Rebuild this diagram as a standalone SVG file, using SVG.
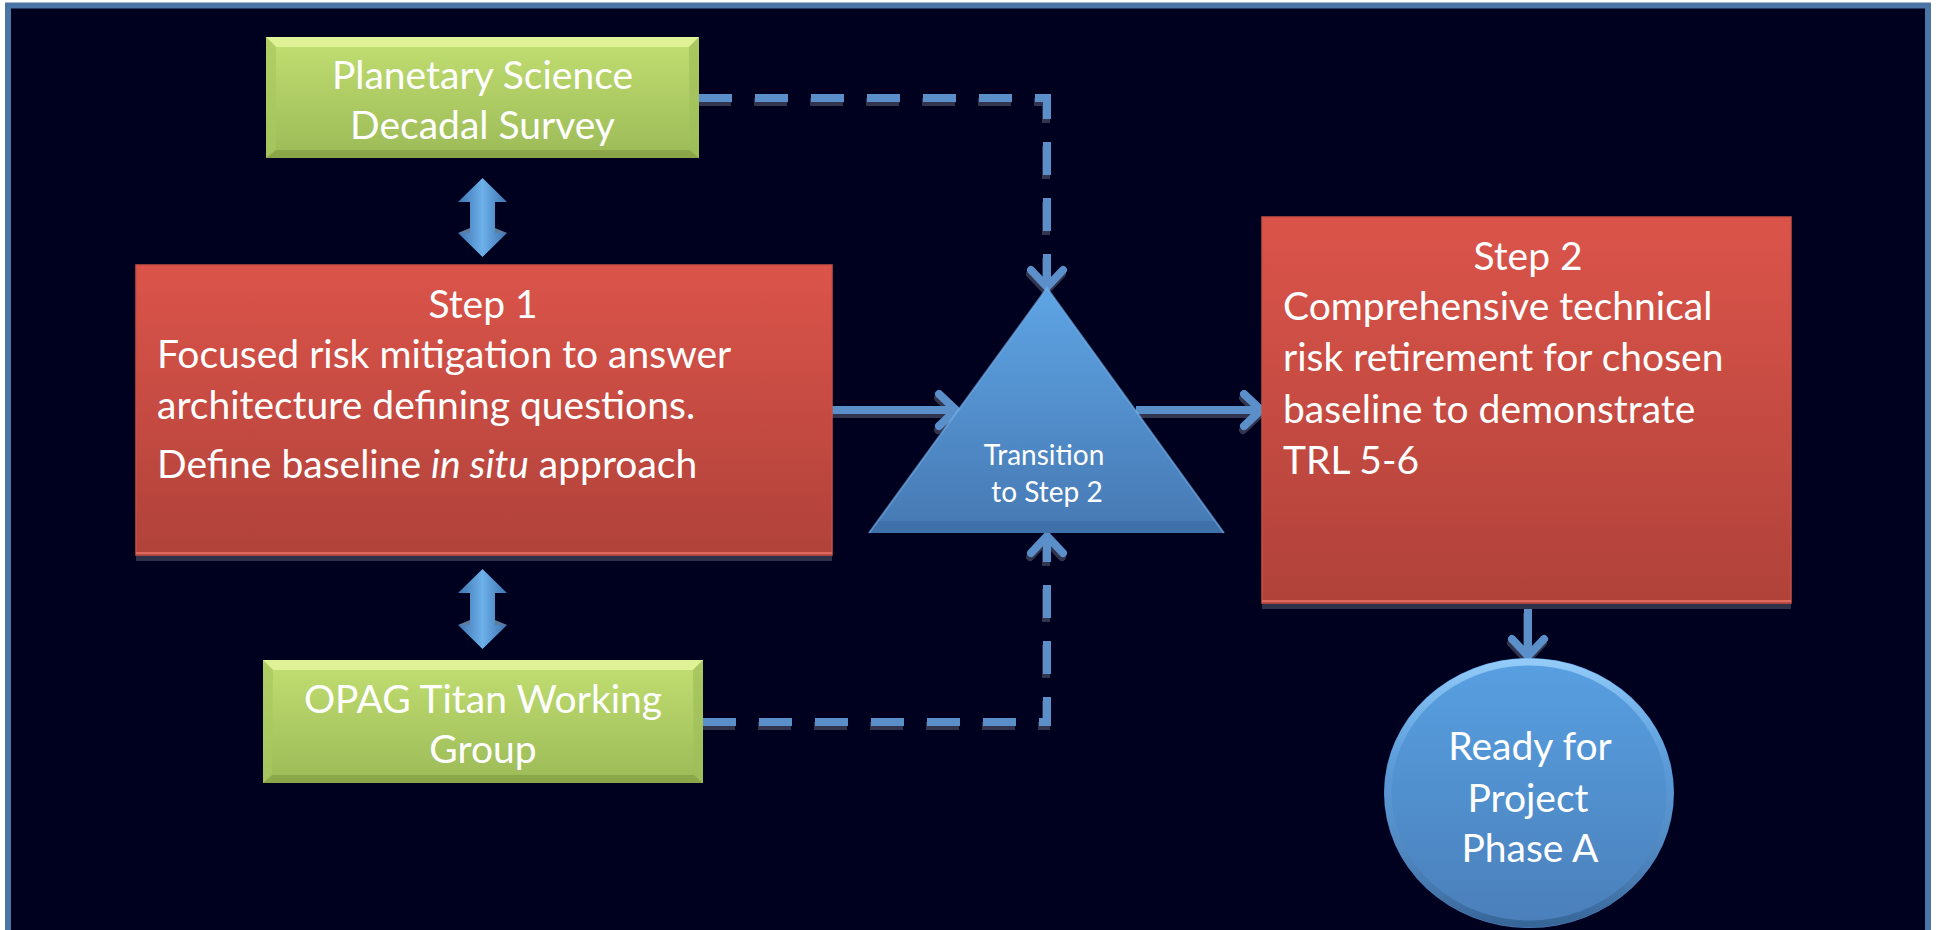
<svg xmlns="http://www.w3.org/2000/svg" width="1937" height="930" viewBox="0 0 1937 930">
<style>
.t{font-family:Lato,"Open Sans","Liberation Sans",sans-serif;fill:#ffffff;font-size:39px}
.c{text-anchor:middle}
.s{font-size:28px}
.conn{fill:none;stroke:#5b8fca;stroke-width:8}
.sh{fill:none;stroke:#33354f;stroke-width:8}
.dash{stroke-dasharray:33 23}
</style>
<defs>
<linearGradient id="gGreen" x1="0" y1="0" x2="0" y2="1"><stop offset="0" stop-color="#c2df72"/><stop offset="1" stop-color="#9cba57"/></linearGradient>
<linearGradient id="gRed" x1="0" y1="0" x2="0" y2="1"><stop offset="0" stop-color="#db544a"/><stop offset="1" stop-color="#b0423a"/></linearGradient>
<linearGradient id="gTri" x1="0" y1="0" x2="0" y2="1"><stop offset="0" stop-color="#5ea4e4"/><stop offset="1" stop-color="#4679b3"/></linearGradient>
<linearGradient id="gCirc" x1="0" y1="0" x2="0" y2="1"><stop offset="0" stop-color="#58a0e2"/><stop offset="1" stop-color="#4a7fba"/></linearGradient>
<linearGradient id="gRim" x1="0" y1="0" x2="0" y2="1"><stop offset="0" stop-color="#9ad0fa" stop-opacity="0.9"/><stop offset="0.4" stop-color="#7ab8ee" stop-opacity="0.2"/><stop offset="1" stop-color="#2f5a8a" stop-opacity="0.7"/></linearGradient>
<linearGradient id="gArr" x1="0" y1="0" x2="1" y2="0"><stop offset="0" stop-color="#3e73ae"/><stop offset="0.5" stop-color="#6cb0ea"/><stop offset="1" stop-color="#3e73ae"/></linearGradient>
<marker id="chev" markerUnits="userSpaceOnUse" markerWidth="60" markerHeight="60" viewBox="-30 -30 60 60" refX="0" refY="0" orient="auto" overflow="visible">
<path d="M-18,-16 L-1,0 L-18,16" fill="none" stroke="#5b8fca" stroke-width="8" stroke-linecap="round" stroke-linejoin="round"/>
</marker>
<marker id="chevSh" markerUnits="userSpaceOnUse" markerWidth="60" markerHeight="60" viewBox="-30 -30 60 60" refX="0" refY="0" orient="auto" overflow="visible">
<path d="M-18,-16 L-1,0 L-18,16" fill="none" stroke="#33354f" stroke-width="8" stroke-linecap="round" stroke-linejoin="round"/>
</marker>
</defs>

<rect x="0" y="0" width="1937" height="930" fill="#ffffff"/>
<rect id="frame" x="8" y="5.5" width="1920" height="1000" fill="#00001f" stroke="#4a75a4" stroke-width="6"/>

<g id="connectors">
  <!-- shadows -->
  <g transform="translate(-1,4)">
    <path class="sh dash" d="M699,98 H1047 V288" marker-end="url(#chevSh)"/>
    <path class="sh dash" d="M703,722 H1047 V535" marker-end="url(#chevSh)"/>
    <path class="sh" d="M832,410 H957" marker-end="url(#chevSh)"/>
    <path class="sh" d="M1136,410 H1262" marker-end="url(#chevSh)"/>
    <path class="sh" d="M1528,609 V657" marker-end="url(#chevSh)"/>
  </g>
  <path class="conn dash" d="M699,98 H1047 V288" marker-end="url(#chev)"/>
  <path class="conn dash" d="M703,722 H1047 V535" marker-end="url(#chev)"/>
  <path class="conn" d="M832,410 H957" marker-end="url(#chev)"/>
  <path class="conn" d="M1136,410 H1262" marker-end="url(#chev)"/>
  <path class="conn" d="M1528,603 V657" marker-end="url(#chev)"/>
</g>

<g id="arrow-survey-step1">
  <polygon points="482.5,178 507,202 495,202 495,233 507,233 482.5,257 458,233 470,233 470,202 458,202" fill="url(#gArr)"/>
  <polygon points="458,233 470,233 470,228" fill="#9fd0f6" opacity="0.6"/>
  <polygon points="507,233 495,233 495,228" fill="#9fd0f6" opacity="0.6"/>
</g>
<g id="arrow-step1-opag">
  <polygon points="482.5,569 507,593 495,593 495,625 507,625 482.5,649 458,625 470,625 470,593 458,593" fill="url(#gArr)"/>
  <polygon points="458,625 470,625 470,620" fill="#9fd0f6" opacity="0.6"/>
  <polygon points="507,625 495,625 495,620" fill="#9fd0f6" opacity="0.6"/>
</g>

<g id="survey">
  <rect x="266" y="37" width="433" height="121" fill="url(#gGreen)"/>
  <polygon points="266,37 699,37 689,47 276,47" fill="#e4f69c" opacity="0.85"/>
  <polygon points="266,158 699,158 690,150 275,150" fill="#88a447" opacity="0.9"/>
  <polygon points="266,37 276,47 276,150 266,158" fill="#a9c85f" opacity="0.7"/>
  <polygon points="699,37 689,47 690,150 699,158" fill="#a0bd5a" opacity="0.7"/>
  <text class="t c" x="482.5" y="89">Planetary Science</text>
  <text class="t c" x="482.5" y="139">Decadal Survey</text>
</g>

<g id="step1">
  <rect x="136" y="555" width="696" height="6" fill="#2f3149"/>
  <rect x="136" y="265" width="696" height="290" fill="url(#gRed)" stroke="#c84f46" stroke-width="1.5"/>
  <line x1="136" y1="553" x2="832" y2="553" stroke="#de6a5f" stroke-width="2"/>
  <text class="t c" x="483" y="318">Step 1</text>
  <text class="t" x="157" y="368">Focused risk mitigation to answer</text>
  <text class="t" x="157" y="419">architecture defining questions.</text>
  <text class="t" x="157" y="478">Define baseline <tspan font-style="italic">in situ</tspan> approach</text>
</g>

<g id="opag">
  <rect x="263" y="660" width="440" height="123" fill="url(#gGreen)"/>
  <polygon points="263,660 703,660 693,670 273,670" fill="#e4f69c" opacity="0.85"/>
  <polygon points="263,783 703,783 694,775 272,775" fill="#88a447" opacity="0.9"/>
  <polygon points="263,660 273,670 272,775 263,783" fill="#a9c85f" opacity="0.7"/>
  <polygon points="703,660 693,670 694,775 703,783" fill="#a0bd5a" opacity="0.7"/>
  <text class="t c" x="483" y="713">OPAG Titan Working</text>
  <text class="t c" x="483" y="763">Group</text>
</g>

<g id="transition">
  <polygon points="1047,288 1224,533 869,533" fill="url(#gTri)"/>
  <polygon points="878,521 1215,521 1224,533 869,533" fill="#3e6ea6" opacity="0.8"/>
  <polyline points="869,533 1047,288 1224,533" fill="none" stroke="#78b6ee" stroke-width="2" opacity="0.6"/>
  <text class="t c s" x="1044" y="465">Transition</text>
  <text class="t c s" x="1047" y="502">to Step 2</text>
</g>

<g id="step2">
  <rect x="1262" y="603" width="529" height="6" fill="#2f3149"/>
  <rect x="1262" y="217" width="529" height="386" fill="url(#gRed)" stroke="#c84f46" stroke-width="1.5"/>
  <line x1="1262" y1="601" x2="1791" y2="601" stroke="#de6a5f" stroke-width="2"/>
  <text class="t c" x="1528" y="270">Step 2</text>
  <text class="t" x="1283" y="320">Comprehensive technical</text>
  <text class="t" x="1283" y="371">risk retirement for chosen</text>
  <text class="t" x="1283" y="423">baseline to demonstrate</text>
  <text class="t" x="1283" y="474">TRL 5-6</text>
</g>

<g id="ready">
  <ellipse cx="1529" cy="793" rx="145" ry="135" fill="url(#gCirc)"/>
  <ellipse cx="1529" cy="793" rx="141" ry="131" fill="none" stroke="url(#gRim)" stroke-width="7"/>
  <text class="t c" x="1530" y="760">Ready for</text>
  <text class="t c" x="1528" y="812">Project</text>
  <text class="t c" x="1530" y="862">Phase A</text>
</g>
</svg>
